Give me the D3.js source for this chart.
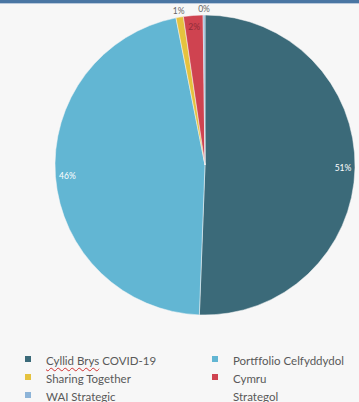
<!DOCTYPE html>
<html><head><meta charset="utf-8">
<script src="https://cdn.jsdelivr.net/npm/d3@7"></script>
<style>
html,body{margin:0;padding:0;background:#f7f7f7;}
#wrap{position:relative;width:359px;height:402px;overflow:hidden;background:#f7f7f7;}
#topbar{position:absolute;left:0;top:0;width:359px;height:3px;background:#4a76a3;border-bottom:1px solid #b9c9dc;}
svg{position:absolute;left:0;top:0;}
.leg{position:absolute;font-family:Lato,"Open Sans",sans-serif;font-size:11.5px;color:#595959;line-height:18px;white-space:nowrap;}
.sw{position:absolute;width:6px;height:6px;}
.spell{text-decoration:underline wavy #d03030;text-decoration-thickness:1px;text-underline-offset:2px;}
</style></head>
<body><div id="wrap"><div id="topbar"></div></div>
<script>
const categories = ["Cyllid Brys COVID-19","Portffolio Celfyddydol","Sharing Together","Cymru Strategol","WAI Strategic"];
const values = [50.6, 46.3, 0.8, 2.1, 0.2];
const labels = ["51%","46%","1%","2%","0%"];
const colors = ["#3b6a79","#62b6d3","#e5c23e","#cf4350","#8db4d8"];

const W = 359, H = 402, cx = 205, cy = 165, R = 150;
const wrap = d3.select("#wrap");
const svg = wrap.append("svg").attr("width", W).attr("height", H);
const g = svg.append("g").attr("transform", `translate(${cx},${cy})`);

const data = categories.map((c,i)=>({c, v: values[i], l: labels[i], col: colors[i]}));
const pie = d3.pie().value(d=>d.v).sort(null);
const arcs = pie(data);
const arc = d3.arc().innerRadius(0).outerRadius(R);

g.selectAll("path").data(arcs).join("path")
  .attr("d", arc).attr("fill", d=>d.data.col)
  .attr("stroke", "#f7f7f7").attr("stroke-width", 0.5);

const inArc = d3.arc().innerRadius(138).outerRadius(138);
const outArc = d3.arc().innerRadius(156).outerRadius(156);
const labelStyle = [
  {a: inArc, fill: "#ffffff"},
  {a: inArc, fill: "#ffffff"},
  {a: outArc, fill: "#666666"},
  {a: inArc, fill: "#8e2d38"},
  {a: outArc, fill: "#666666"}
];
g.selectAll("text.lbl").data(arcs).join("text")
  .attr("class","lbl")
  .attr("transform", (d,i)=>{ const p = labelStyle[i].a.centroid(d); return `translate(${p[0]},${p[1]})`; })
  .attr("text-anchor","middle").attr("dominant-baseline","central")
  .attr("font-family","Lato, 'Open Sans', sans-serif").attr("font-size", 8.5)
  .attr("fill", (d,i)=>labelStyle[i].fill)
  .text(d=>d.data.l);

// legend
const legPos = [
  {x: 25, y: 352}, {x: 212, y: 352},
  {x: 25, y: 370}, {x: 212, y: 370},
  {x: 25, y: 388}
];
data.forEach((d,i)=>{
  const p = legPos[i];
  wrap.append("div").attr("class","sw").style("left", p.x+"px").style("top", (p.y+4)+"px").style("background", d.col);
  const t = wrap.append("div").attr("class","leg").style("left", (p.x+21)+"px").style("top", p.y+"px");
  if (i === 0) {
    t.html('<span class="spell">Cyllid Brys</span> COVID-19');
  } else if (i === 3) {
    t.html('Cymru<br>Strategol');
  } else {
    t.text(d.c);
  }
});
</script></body></html>
